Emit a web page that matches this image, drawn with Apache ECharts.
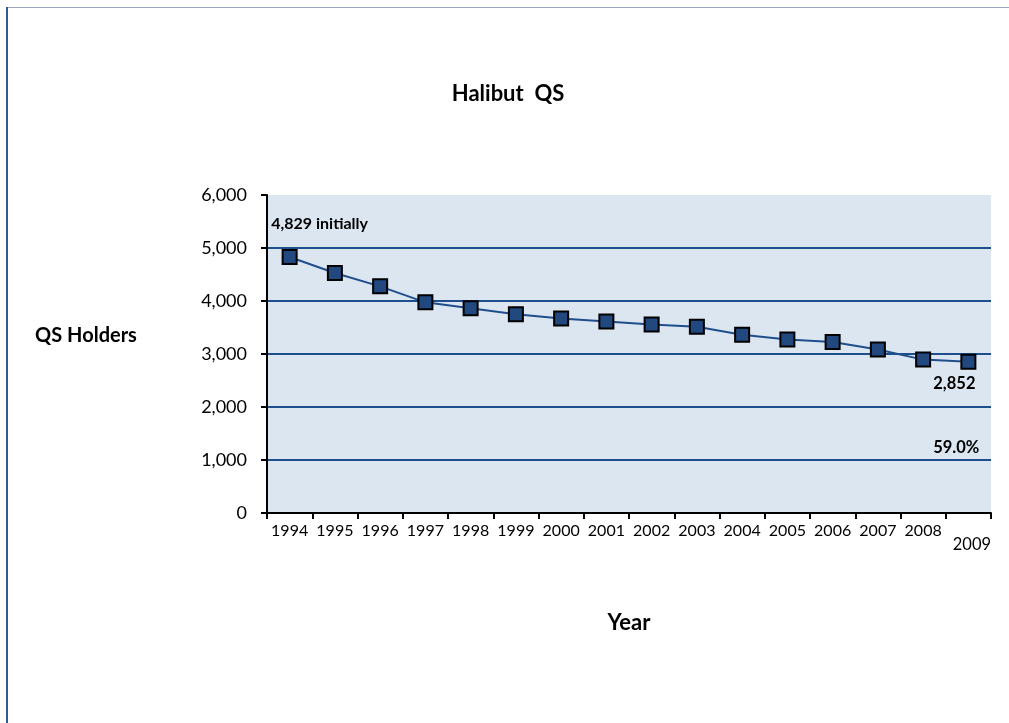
<!DOCTYPE html>
<html>
<head>
<meta charset="utf-8">
<script src="https://cdn.jsdelivr.net/npm/echarts@6/dist/echarts.min.js"></script>
<style>html,body{margin:0;padding:0;background:#fff;}#c{width:1009px;height:723px;}</style>
</head>
<body>
<div id="c"></div>
<script>
var years = ['1994','1995','1996','1997','1998','1999','2000','2001','2002','2003','2004','2005','2006','2007','2008','2009'];
var holders = [4829, 4529, 4276, 3975, 3865, 3749, 3671, 3613, 3555, 3516, 3362, 3272, 3226, 3083, 2894, 2852];
var yTicks = [0, 1000, 2000, 3000, 4000, 5000, 6000];
var pctLabel = '59.0%';

var FONT = 'Lato, "Open Sans", sans-serif';
var GRID_BLUE = '#1F4E8C';
var last = holders.length - 1;
var chart = echarts.init(document.getElementById('c'));

var splitColors = yTicks.map(function (t, i) { return i === yTicks.length - 1 ? 'rgba(0,0,0,0)' : GRID_BLUE; });

var seriesData = holders.map(function (v, i) {
  if (i === 0) return {value: v, label: {show: true, position: 'top', fontSize: 16, distance: 17, offset: [30, 0],
    formatter: function (p) { return p.value.toLocaleString('en-US') + ' initially'; }}};
  if (i === last) return {value: v, label: {show: true, position: 'bottom', fontSize: 16.5, distance: 5, offset: [-14, 0],
    formatter: function (p) { return p.value.toLocaleString('en-US'); }}};
  return v;
});

chart.setOption({
  animation: false,
  backgroundColor: '#fff',
  title: {
    text: 'Halibut  QS',
    left: 503, top: 78, textAlign: 'center',
    textStyle: {fontFamily: FONT, fontSize: 22, fontWeight: 'bold', color: '#000'}
  },
  grid: {left: 267, right: 18, top: 195, bottom: 210, show: true, backgroundColor: '#DCE6F1', borderWidth: 0},
  xAxis: {
    type: 'category', data: years, boundaryGap: true,
    name: 'Year', nameLocation: 'middle', nameGap: 99,
    nameTextStyle: {fontFamily: FONT, fontSize: 22, fontWeight: 'bold', color: '#000'},
    axisLine: {lineStyle: {color: '#000', width: 2}},
    axisTick: {show: true, length: 6, lineStyle: {color: '#000', width: 2}},
    axisLabel: {
      fontFamily: FONT, fontSize: 16, color: '#000', margin: 10, interval: 0,
      formatter: function (v, i) { return i === last ? '{low|' + v + '}' : v; },
      rich: {low: {fontFamily: FONT, fontSize: 16.5, color: '#000', padding: [13, 0, 0, 7]}}
    },
    splitLine: {show: false}
  },
  yAxis: {
    type: 'value', min: yTicks[0], max: yTicks[yTicks.length - 1], interval: 1000,
    axisLine: {show: true, lineStyle: {color: '#000', width: 2}},
    axisTick: {show: true, length: 6, lineStyle: {color: '#000', width: 2}},
    axisLabel: {
      fontFamily: FONT, fontSize: 18, color: '#000', margin: 20,
      formatter: function (v) { return v.toLocaleString('en-US'); }
    },
    splitLine: {show: true, lineStyle: {color: splitColors, width: 2}}
  },
  series: [{
    type: 'line', data: seriesData,
    symbol: 'rect', symbolSize: 14,
    lineStyle: {color: GRID_BLUE, width: 2},
    itemStyle: {color: '#22497F', borderColor: '#000', borderWidth: 2},
    label: {show: false, fontFamily: FONT, fontWeight: 'bold', color: '#000'},
    z: 3
  }]
});

var p = chart.convertToPixel({gridIndex: 0}, [last, 1000]);
chart.setOption({
  graphic: [
    {type: 'rect', shape: {x: 6, y: 7, width: 2, height: 716}, style: {fill: '#2F5D91'}},
    {type: 'rect', shape: {x: 8, y: 7, width: 1001, height: 1}, style: {fill: '#98A4BC'}},
    {type: 'text', x: 86, y: 336, style: {text: 'QS Holders', fontFamily: FONT, fontSize: 20, fontWeight: 'bold', fill: '#000', align: 'center', verticalAlign: 'middle'}},
    {type: 'text', x: p[0] + 11, y: p[1] - 12, style: {text: pctLabel, fontFamily: FONT, fontSize: 16.5, fontWeight: 'bold', fill: '#000', align: 'right', verticalAlign: 'middle'}}
  ]
});
</script>
</body>
</html>
